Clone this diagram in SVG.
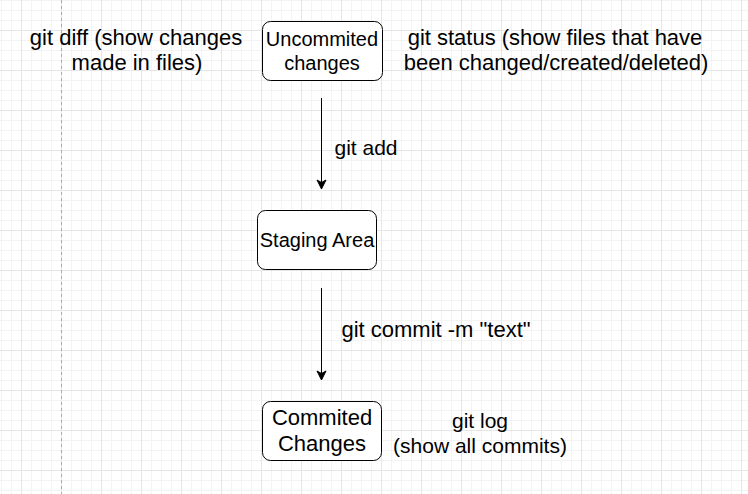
<svg xmlns="http://www.w3.org/2000/svg" width="748" height="494" viewBox="0 0 748 494">
<defs>
<style>
.t{font-family:"Liberation Sans",Arial,sans-serif;fill:#000;text-anchor:middle}
.box{fill:#fff;stroke:#000;stroke-width:1}
.edge{stroke:#000;stroke-width:1;fill:none}
</style>
<pattern id="grid" patternUnits="userSpaceOnUse" x="21" y="30" width="40" height="40">
<rect width="40" height="40" fill="#fff"/>
<rect x="10" y="0" width="1" height="40" fill="#f3f3f3"/>
<rect x="20" y="0" width="1" height="40" fill="#f3f3f3"/>
<rect x="30" y="0" width="1" height="40" fill="#f3f3f3"/>
<rect x="0" y="10" width="40" height="1" fill="#f3f3f3"/>
<rect x="0" y="20" width="40" height="1" fill="#f3f3f3"/>
<rect x="0" y="30" width="40" height="1" fill="#f3f3f3"/>
<rect x="0" y="0" width="1" height="40" fill="#e6e6e6"/>
<rect x="0" y="0" width="40" height="1" fill="#e6e6e6"/>
</pattern>
<marker id="arr" markerUnits="userSpaceOnUse" markerWidth="12" markerHeight="12" viewBox="-10 -6 12 12" refX="0" refY="0" orient="auto">
<path d="M0,0 L-9,-4.5 L-6.5,0 L-9,4.5 Z" fill="#000" stroke="#000" stroke-width="1"/>
</marker>
</defs>
<rect width="748" height="494" fill="url(#grid)"/>
<line x1="61.5" y1="0" x2="61.5" y2="494" stroke="#aaaaaa" stroke-width="1" stroke-dasharray="3 3"/>

<g id="connectors">
<line class="edge" x1="321.5" y1="98" x2="321.5" y2="189" marker-end="url(#arr)"/>
<line class="edge" x1="321.5" y1="288" x2="321.5" y2="380" marker-end="url(#arr)"/>
<text class="t" x="366" y="155" font-size="21">git add</text>
<text class="t" x="436" y="337" font-size="22">git commit -m "text"</text>
</g>

<g id="uncommited">
<rect class="box" x="262.5" y="21.5" width="120" height="59" rx="8"/>
<text class="t" x="322" y="46" font-size="20">Uncommited</text>
<text class="t" x="322" y="70" font-size="20">changes</text>
</g>

<g id="staging">
<rect class="box" x="257.5" y="210.5" width="119" height="59" rx="8"/>
<text class="t" x="317" y="247" font-size="20">Staging Area</text>
</g>

<g id="commited">
<rect class="box" x="262.5" y="401.5" width="119" height="59" rx="8"/>
<text class="t" x="322" y="425" font-size="22">Commited</text>
<text class="t" x="322" y="451" font-size="22">Changes</text>
</g>

<g id="gitdiff">
<text class="t" x="136" y="45" font-size="22">git diff (show changes</text>
<text class="t" x="137" y="70" font-size="22">made in files)</text>
</g>

<g id="gitstatus">
<text class="t" x="555" y="45" font-size="22">git status (show files that have</text>
<text class="t" x="556" y="70" font-size="22">been changed/created/deleted)</text>
</g>

<g id="gitlog">
<text class="t" x="480" y="428" font-size="21">git log</text>
<text class="t" x="480" y="453" font-size="21">(show all commits)</text>
</g>
</svg>
